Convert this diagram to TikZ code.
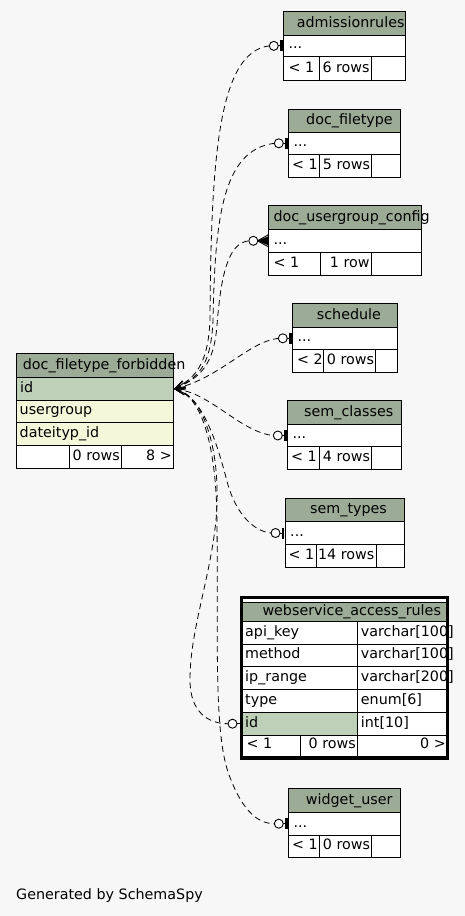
\documentclass[tikz,border=0pt]{standalone}
\usepackage{fontspec}
\setmainfont{DejaVu Sans}
\usetikzlibrary{arrows.meta}
\definecolor{bg}{HTML}{F7F7F7}
\definecolor{hdr}{HTML}{9BAB96}
\definecolor{pk}{HTML}{BED1B8}
\definecolor{idx}{HTML}{F4F7DA}
\tikzset{
  cell/.style={draw=black, line width=0.9pt},
  txt/.style={anchor=base west, inner sep=0pt, font=\fontsize{14.3}{16}\selectfont},
  txtr/.style={anchor=base east, inner sep=0pt, font=\fontsize{14.3}{16}\selectfont},
  rel/.style={draw=black, line width=0.8pt, dash pattern=on 6pt off 4pt,
    {Straight Barb[length=10pt,width=7pt,line width=0.8pt]}-},
  mk/.style={draw=black, line width=0.9pt},
}
% small table: left, right, top, header bottom, row bottom, footer bottom, div1, div2
\newcommand\smalltab[8]{%
  \fill[hdr] (#1,#3) rectangle (#2,#4);
  \fill[white] (#1,#4) rectangle (#2,#6);
  \draw[cell] (#1,#3) rectangle (#2,#6);
  \draw[cell] (#1,#4) -- (#2,#4) (#1,#5) -- (#2,#5) (#7,#5) -- (#7,#6) (#8,#5) -- (#8,#6);
}
% zero-or-one mark: box left x, y
\newcommand\zoone[2]{%
  \draw[mk] (#1-5,#2) -- (#1-1,#2);
  \draw[mk,fill=white] (#1-9.5,#2) circle[radius=4.5];
  \fill (#1-3.3,#2-5.5) rectangle (#1-0.8,#2+5.5);
}
\begin{document}
\begin{tikzpicture}[x=1pt,y=-1pt]
\fill[bg] (0,0) rectangle (465,916);
\useasboundingbox (0,0) rectangle (465,916);

% ---------- doc_filetype_forbidden ----------
\fill[hdr] (16,353.3) rectangle (173.3,377.3);
\fill[pk] (16,377.3) rectangle (173.3,400);
\fill[idx] (16,400) rectangle (173.3,445.3);
\fill[white] (16,445.3) rectangle (173.3,468);
\draw[cell] (16,353.3) rectangle (173.3,468);
\draw[cell] (16,377.3) -- (173.3,377.3) (16,400) -- (173.3,400) (16,422.7) -- (173.3,422.7)
  (16,445.3) -- (173.3,445.3) (69.3,445.3) -- (69.3,468) (121.3,445.3) -- (121.3,468);
\node[txt] (dff-t) at (22.7,369.3) {doc\_filetype\_forbidden};
\node[txt] (dff-id) at (20,392) {id};
\node[txt] (dff-ug) at (19.5,414.7) {usergroup};
\node[txt] (dff-dt) at (19.5,437.3) {dateityp\_id};
\node[txtr] (dff-rows) at (120,460) {0 rows};
\node[txtr] (dff-ch) at (172,460) {8 >};
\coordinate (T) at (174,389);

% ---------- admissionrules ----------
\smalltab{283.3}{405.3}{11.7}{35}{56.7}{80}{319.3}{371.3}
\node[txt] (adm-t) at (296.7,27) {admissionrules};
\node[txt] (adm-r) at (288.3,48.7) {...};
\node[txt] (adm-p) at (288.3,72) {< 1};
\node[txtr] (adm-n) at (369.8,72) {6 rows};
\zoone{283.3}{45.85}
\coordinate (adm-e) at (269.3,45.85);

% ---------- doc_filetype ----------
\smalltab{288.3}{400}{109.5}{132.3}{154.3}{177.3}{319.3}{371.7}
\node[txt] (dft-t) at (306,124.3) {doc\_filetype};
\node[txt] (dft-r) at (293.3,146.3) {...};
\node[txt] (dft-p) at (291.8,169.3) {< 1};
\node[txtr] (dft-n) at (370.2,169.3) {5 rows};
\zoone{288.3}{143.3}
\coordinate (dft-e) at (274.3,143.3);

% ---------- doc_usergroup_config ----------
\smalltab{268.3}{421.7}{205}{229.3}{252.3}{275}{320.7}{371.3}
\node[txt] (duc-t) at (273.3,221.3) {doc\_usergroup\_config};
\node[txt] (duc-r) at (273.3,244.3) {...};
\node[txt] (duc-p) at (273.3,267) {< 1};
\node[txtr] (duc-n) at (369.8,267) {1 row};
\draw[mk] (248.8+9,240.8) -- (268.3,240.8);
\fill (257.5,240.8) -- (268.3,236.3) -- (268.3,245.3) -- cycle;
\draw[mk] (257.5,240.8) -- (268.3,234.8) (257.5,240.8) -- (268.3,246.8);
\draw[mk,fill=white] (253.3,240.8) circle[radius=4.5];
\coordinate (duc-e) at (248.8,240.8);

% ---------- schedule ----------
\smalltab{292.3}{397.7}{303.3}{327.3}{349.3}{372}{323.3}{375.7}
\node[txt] (sch-t) at (316.7,319.3) {schedule};
\node[txt] (sch-r) at (297.3,341.3) {...};
\node[txt] (sch-p) at (296.8,364) {< 2};
\node[txtr] (sch-n) at (374.2,364) {0 rows};
\zoone{292.3}{338.3}
\coordinate (sch-e) at (278.3,338.3);

% ---------- sem_classes ----------
\smalltab{287.3}{401.7}{400}{424.3}{446.7}{469.3}{319.3}{371.7}
\node[txt] (semc-t) at (304,416.3) {sem\_classes};
\node[txt] (semc-r) at (292.3,438.7) {...};
\node[txt] (semc-p) at (290.8,461.3) {< 1};
\node[txtr] (semc-n) at (370.2,461.3) {4 rows};
\zoone{287.3}{435.5}
\coordinate (semc-e) at (273.3,435.5);

% ---------- sem_types ----------
\smalltab{285}{404}{498.3}{521.7}{544.3}{567.3}{316.7}{376}
\node[txt] (semt-t) at (310,513.7) {sem\_types};
\node[txt] (semt-r) at (290,536.3) {...};
\node[txt] (semt-p) at (288.5,559.3) {< 1};
\node[txtr] (semt-n) at (374.5,559.3) {14 rows};
\zoone{285}{533}
\coordinate (semt-e) at (271,533);

% ---------- webservice_access_rules ----------
\fill[white] (240,596) rectangle (449,760);
\fill[hdr] (242,602) rectangle (446.7,621.7);
\fill[pk] (242,712.3) rectangle (357.3,735);
\node[txt] (ws-t) at (262.3,615) {webservice\_access\_rules};
\node[txt] (ws-c1) at (245,636.3) {api\_key};
\node[txt] (ws-c2) at (245,658.7) {method};
\node[txt] (ws-c3) at (245,681.3) {ip\_range};
\node[txt] (ws-c4) at (245,704.3) {type};
\node[txt] (ws-c5) at (245,727) {id};
\node[txt] (ws-d1) at (360.7,636.3) {varchar[100]};
\node[txt] (ws-d2) at (360.7,658.7) {varchar[100]};
\node[txt] (ws-d3) at (360.7,681.3) {varchar[200]};
\node[txt] (ws-d4) at (360.7,704.3) {enum[6]};
\node[txt] (ws-d5) at (360.7,727) {int[10]};
\node[txt] (ws-p) at (246.5,748.7) {< 1};
\node[txtr] (ws-n) at (356,748.7) {0 rows};
\node[txtr] (ws-ch) at (446,748.7) {0 >};
\draw[cell] (242,602) rectangle (446.7,756.7);
\draw[cell] (242,621.7) -- (446.7,621.7) (242,644.3) -- (446.7,644.3) (242,666.7) -- (446.7,666.7)
  (242,689.3) -- (446.7,689.3) (242,712.3) -- (446.7,712.3) (242,735) -- (446.7,735)
  (357.3,621.7) -- (357.3,756.7) (300.7,735) -- (300.7,756.7);
\draw[black, line width=2.7pt] (241.35,597.35) rectangle (447.65,758.65);
\draw[mk] (237,723.7) -- (240,723.7);
\draw[mk,fill=white] (232.5,723.7) circle[radius=4.5];
\coordinate (ws-e) at (228,723.7);

% ---------- widget_user ----------
\smalltab{288.3}{400.7}{788.3}{812.3}{835}{857.3}{319.3}{371.7}
\node[txt] (wu-t) at (305.7,804.3) {widget\_user};
\node[txt] (wu-r) at (293.3,827) {...};
\node[txt] (wu-p) at (291.8,849.3) {< 1};
\node[txtr] (wu-n) at (370.2,849.3) {0 rows};
\zoone{288.3}{823.7}
\coordinate (wu-e) at (274.3,823.7);

% ---------- relationships ----------
\draw[rel] (T) .. controls (195,378) and (208,365) .. (210,320)
  .. controls (211,160) and (218,52) .. (adm-e);
\draw[rel] (T) .. controls (197,378) and (211,368) .. (213,320)
  .. controls (215,220) and (222,150) .. (dft-e);
\draw[rel] (T) .. controls (200,378) and (214,365) .. (217,325)
  .. controls (221,275) and (228,243) .. (duc-e);
\draw[rel] (T) .. controls (220,378) and (248,342) .. (sch-e);
\draw[rel] (T) .. controls (210,392) and (240,432) .. (semc-e);
\draw[rel] (T) .. controls (205,395) and (220,455) .. (228,485)
  .. controls (236,512) and (252,531) .. (semt-e);
\draw[rel] (T) .. controls (203,395) and (222,450) .. (216,520)
  .. controls (210,580) and (190,630) .. (190,680)
  .. controls (190,712) and (208,723.7) .. (ws-e);
\draw[rel] (T) .. controls (200,395) and (216,440) .. (217,520)
  .. controls (218,640) and (214,730) .. (228,772)
  .. controls (240,806) and (255,823.7) .. (wu-e);

\node[txt] (gen) at (16,899) {Generated by SchemaSpy};
\end{tikzpicture}
\end{document}
